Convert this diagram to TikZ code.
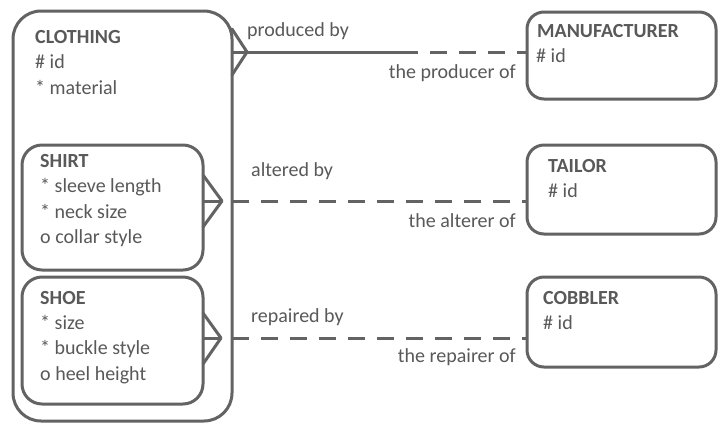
\documentclass[tikz,border=0pt]{standalone}
\usepackage{fontspec}
\setmainfont{Carlito}
\definecolor{ln}{HTML}{636363}
\definecolor{tx}{HTML}{595959}
\begin{document}
\begin{tikzpicture}[x=1pt,y=-1pt,
  box/.style={draw=ln, line width=3pt, rectangle, rounded corners=#1, inner sep=0pt, outer sep=0pt},
  txt/.style={text=tx, font=\fontsize{20}{24}\selectfont, inner sep=0pt, anchor=base west},
  ttl/.style={text=tx, font=\fontsize{20}{24}\selectfont\bfseries, inner sep=0pt, anchor=base west},
  lblr/.style={text=tx, font=\fontsize{20}{24}\selectfont, inner sep=0pt, anchor=base east},
  rel/.style={draw=ln, line width=3pt},
  dsh/.style={rel, dash pattern=on 17pt off 12pt},
  foot/.style={draw=ln, line width=3pt, line join=round, line cap=round}]
\fill[white] (0,0) rectangle (720,424);
\useasboundingbox (0,0) rectangle (720,424);
% boxes
\node[box=28, minimum width=219pt, minimum height=410pt] (clothing) at (122.5,216) {};
\node[box=20, minimum width=181pt, minimum height=125pt] (shirt) at (112.5,207.5) {};
\node[box=20, minimum width=181pt, minimum height=127pt] (shoe) at (112.5,340.5) {};
\node[box=17, minimum width=189pt, minimum height=87pt] (manuf) at (621.5,55.5) {};
\node[box=17, minimum width=189pt, minimum height=89pt] (tailor) at (621.5,189.5) {};
\node[box=17, minimum width=189pt, minimum height=90pt] (cobbler) at (621.5,322) {};
% texts
\node[ttl] (c0) at (35,43) {CLOTHING};
\node[txt] (c1) at (35,68.5) {\# id};
\node[txt] (c2) at (35,94) {* material};
\node[ttl] (s0) at (40,167) {SHIRT};
\node[txt] (s1) at (40,192.5) {* sleeve length};
\node[txt] (s2) at (40,218) {* neck size};
\node[txt] (s3) at (40,243.5) {o collar style};
\node[ttl] (h0) at (40,304) {SHOE};
\node[txt] (h1) at (40,329) {* size};
\node[txt] (h2) at (40,354.5) {* buckle style};
\node[txt] (h3) at (40,380) {o heel height};
\node[ttl] (m0) at (537,37) {MANUFACTURER};
\node[txt] (m1) at (536,62) {\# id};
\node[ttl] (t0) at (548,172) {TAILOR};
\node[txt] (t1) at (548,197) {\# id};
\node[ttl] (b0) at (543,304) {COBBLER};
\node[txt] (b1) at (543,329) {\# id};
% relationship labels
\node[txt] (l1) at (247,36) {produced by};
\node[lblr] (l2) at (516,78) {the producer of};
\node[txt] (l3) at (251,176) {altered by};
\node[lblr] (l4) at (516,227.5) {the alterer of};
\node[txt] (l5) at (251,322) {repaired by};
\node[lblr] (l6) at (516,362.5) {the repairer of};
% connectors
\coordinate (y1) at (0,52);
\coordinate (y2) at (0,201);
\coordinate (y3) at (0,338);
\coordinate (mid1) at (418,52);
\draw[rel] (clothing.east |- y1) -- (mid1);
\draw[dsh, dash phase=17pt] (mid1) -- (manuf.west |- y1);
\draw[foot] (clothing.east |- 0,29) -- (247,52) -- (clothing.east |- 0,75);
\draw[dsh] (shirt.east |- y2) -- (tailor.west |- y2);
\draw[foot] (shirt.east |- 0,175) -- (222,201) -- (shirt.east |- 0,227);
\draw[dsh] (shoe.east |- y3) -- (cobbler.west |- y3);
\draw[foot] (shoe.east |- 0,313) -- (221,338) -- (shoe.east |- 0,364);
\end{tikzpicture}
\end{document}
